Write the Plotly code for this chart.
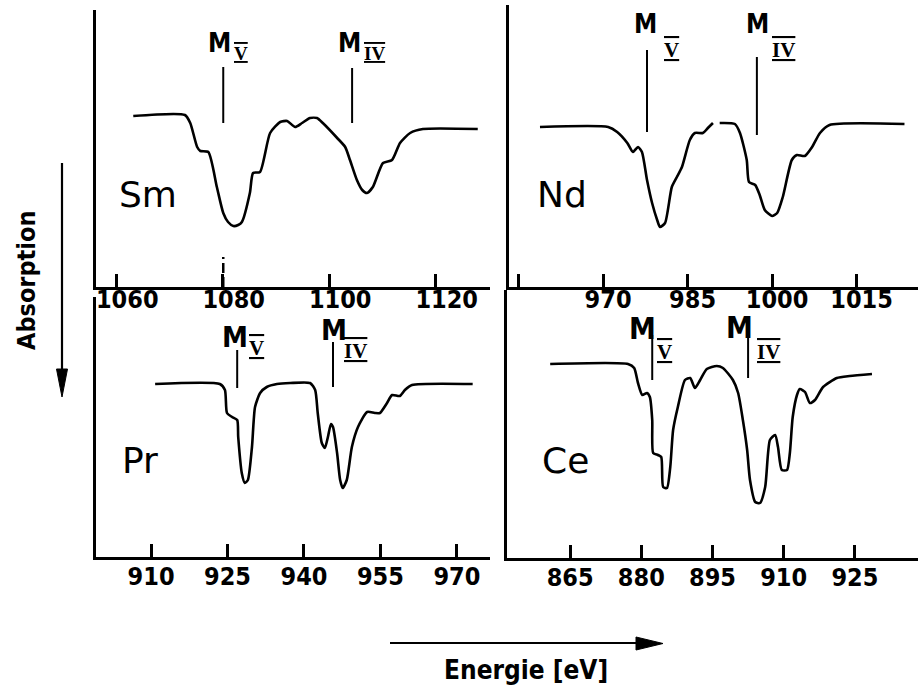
import plotly.graph_objects as go

W, H = 918, 695

# ---------------- data ----------------
# Sm panel
sm_energy = [1063.2, 1072.9, 1073.9, 1075.2, 1075.8, 1077.3, 1078.9, 1080.1, 1081.0, 1082.0,
             1082.9, 1083.6, 1085.1, 1085.7, 1087.0, 1088.9, 1090.8, 1092.1, 1093.6, 1094.9,
             1096.4, 1097.7, 1098.8, 1101.5, 1103.0, 1103.9, 1105.2, 1106.2, 1107.1, 1108.2,
             1110.1, 1111.8, 1113.3, 1115.2, 1117.6, 1127.9]
sm_signal = [171, 172, 164, 140, 136, 135, 100, 74, 65, 61,
             62, 65, 94, 114, 115, 154, 165, 166, 160, 164,
             169, 169, 164, 149, 140, 127, 107, 97, 94, 100,
             124, 127, 144, 154, 158, 158]

# Nd panel (None = gap in the trace)
nd_energy = [958.8, 970.9, 972.5, 974.3, 975.3, 976.2, 976.9, 977.8, 978.7, 979.6,
             980.1, 981.0, 982.2, 983.1, 984.0, 985.4, 986.3, 987.7, 988.6, 989.5,
             None, 990.7, 993.4, 994.3, 995.5, 995.9, 997.0, 997.8, 998.7, 1000.0,
             1000.9, 1001.9, 1003.5, 1004.4, 1005.8, 1007.1, 1008.5, 1010.2, 1023.5]
nd_signal = [160, 160, 155, 144, 135, 140, 135, 107, 84, 67,
             60, 64, 100, 110, 120, 147, 154, 154, 159, 164,
             None, 164, 163, 154, 127, 105, 102, 92, 77, 71,
             74, 90, 127, 132, 131, 140, 154, 162, 163]

# Pr panel
pr_energy = [910.8, 923.5, 924.5, 924.9, 925.9, 926.9, 927.1, 927.8, 928.4, 929.0,
             929.8, 930.4, 931.4, 932.7, 934.7, 937.3, 941.2, 942.2, 942.7, 943.5,
             944.1, 944.7, 945.3, 945.7, 946.5, 947.1, 947.6, 948.4, 949.4, 950.6,
             952.4, 953.9, 954.9, 956.3, 957.3, 958.8, 959.8, 961.2, 973.1]
pr_signal = [173, 173, 167, 144, 140, 137, 120, 84, 74, 77,
             110, 150, 164, 170, 173, 174, 174, 167, 144, 114,
             109, 120, 133, 130, 104, 77, 69, 77, 110, 130,
             145, 144, 144, 154, 162, 161, 167, 172, 173]

# Ce panel
ce_energy = [860.8, 877.2, 878.5, 879.3, 880.2, 881.2, 881.8, 882.3, 882.5, 883.5,
             884.2, 884.6, 885.4, 886.1, 886.7, 887.7, 889.2, 890.3, 891.3, 892.4,
             893.8, 895.9, 897.2, 899.3, 900.4, 901.4, 902.3, 902.9, 904.0, 905.0,
             906.1, 907.1, 908.2, 908.8, 909.6, 910.7, 911.3, 911.9, 912.8, 913.4,
             914.5, 915.5, 916.6, 918.3, 921.2, 923.9, 928.6]
ce_signal = [194, 194, 190, 175, 163, 165, 161, 138, 105, 103,
             101, 71, 70, 91, 128, 151, 178, 180, 170, 178,
             189, 192, 190, 178, 165, 138, 108, 78, 56, 55,
             71, 118, 123, 111, 88, 88, 105, 141, 163, 169,
             166, 155, 158, 171, 180, 182, 184]

# absorption edge markers: energy, lower and upper end of the marker line
sm_edges = [1080.1, 1104.3]; sm_edge_lo = [164, 164]; sm_edge_hi = [220, 219]
nd_edges = [977.8, 997.3];   nd_edge_lo = [155, 152]; nd_edge_hi = [237, 230]
pr_edges = [926.9, 945.7];   pr_edge_lo = [169, 170]; pr_edge_hi = [207, 215]
ce_edges = [882.3, 902.5];   ce_edge_lo = [178, 180]; ce_edge_hi = [223, 228]
edge_names = ["V", "IV"]

sm_ticks = [1060, 1080, 1100, 1120]
nd_ticks = [955, 970, 985, 1000, 1015]
nd_ticktext = ["", "970", "985", "1000", "1015"]
pr_ticks = [910, 925, 940, 955, 970]
ce_ticks = [865, 880, 895, 910, 925]

elements = ["Sm", "Nd", "Pr", "Ce"]

# ---------------- layout helpers ----------------
def px(x):
    return x / W

def py(y):
    return 1 - y / H

panels = [
    dict(el=elements[0], e=sm_energy, s=sm_signal, edges=sm_edges, lo=sm_edge_lo, hi=sm_edge_hi,
         xd=(96, 490), yd=(10, 287), xr=(1056.2, 1130.2), yr=(0, 277),
         ticks=sm_ticks, tt=[str(t) for t in sm_ticks], shift=11, stand=-12, msize=26, nsize=19,
         lab=(117, 194), moff=[(-4, 24.5), (-2.5, 25.5)], noff=[(9, 13.5), (10, 14.5)]),
    dict(el=elements[1], e=nd_energy, s=nd_signal, edges=nd_edges, lo=nd_edge_lo, hi=nd_edge_hi,
         xd=(509, 918), yd=(5, 287), xr=(953.3, 1025.9), yr=(0, 282),
         ticks=nd_ticks, tt=nd_ticktext, shift=5, stand=-12, msize=26, nsize=21,
         lab=(535, 194), moff=[(-2, 26), (0.5, 33)], noff=[(15, 0), (13, 7)]),
    dict(el=elements[2], e=pr_energy, s=pr_signal, edges=pr_edges, lo=pr_edge_lo, hi=pr_edge_hi,
         xd=(96, 490), yd=(297, 557), xr=(899.2, 976.5), yr=(0, 260),
         ticks=pr_ticks, tt=[str(t) for t in pr_ticks], shift=0, stand=-5, msize=29, nsize=21,
         lab=(120, 460), moff=[(-2, 13.5), (0.5, 12.5)], noff=[(10, 2.5), (9, -8.5)]),
    dict(el=elements[3], e=ce_energy, s=ce_signal, edges=ce_edges, lo=ce_edge_lo, hi=ce_edge_hi,
         xd=(507, 918), yd=(290, 558), xr=(851.7, 938.3), yr=(0, 268),
         ticks=ce_ticks, tt=[str(t) for t in ce_ticks], shift=0, stand=-5, msize=30, nsize=21,
         lab=(540, 460), moff=[(-10, 6.5), (-9, 2.5)], noff=[(3, -16.5), (7, -21.5)]),
]

NARROW = "DejaVu Sans Condensed, DejaVu Sans, sans-serif"
SERIF = "Liberation Serif, DejaVu Serif, serif"

fig = go.Figure()
annotations = []
shapes = []
layout = dict(
    width=W, height=H, margin=dict(l=0, r=0, t=0, b=0),
    paper_bgcolor="white", plot_bgcolor="white", showlegend=False,
)

for i, p in enumerate(panels, start=1):
    xa = "x" if i == 1 else f"x{i}"
    ya = "y" if i == 1 else f"y{i}"
    xkey = "xaxis" if i == 1 else f"xaxis{i}"
    ykey = "yaxis" if i == 1 else f"yaxis{i}"
    layout[xkey] = dict(
        domain=[px(p["xd"][0]), px(p["xd"][1])], range=list(p["xr"]), anchor=ya,
        showline=True, linecolor="black", linewidth=3, showgrid=False, zeroline=False,
        ticks="inside", ticklen=13, tickwidth=2.5, tickcolor="black",
        tickvals=p["ticks"], ticktext=p["tt"], ticklabelshift=p["shift"],
        ticklabelstandoff=p["stand"],
        tickfont=dict(family=NARROW, size=25, color="black", weight="bold"),
    )
    layout[ykey] = dict(
        domain=[py(p["yd"][1]), py(p["yd"][0])], range=list(p["yr"]), anchor=xa,
        showline=True, linecolor="black", linewidth=3, showgrid=False, zeroline=False,
        showticklabels=False, ticks="",
    )
    fig.add_trace(go.Scatter(
        x=p["e"], y=p["s"], mode="lines", xaxis=xa, yaxis=ya,
        line=dict(color="black", width=2.6, shape="spline", smoothing=0.6),
        connectgaps=False, hoverinfo="skip",
    ))
    for k, (ex, lo, hi) in enumerate(zip(p["edges"], p["lo"], p["hi"])):
        fig.add_trace(go.Scatter(
            x=[ex, ex], y=[lo, hi], mode="lines", xaxis=xa, yaxis=ya,
            line=dict(color="black", width=2), hoverinfo="skip",
        ))
        mdx, mdy = p["moff"][k]
        ndx, ndy = p["noff"][k]
        annotations.append(dict(
            x=ex, y=hi, xref=xa, yref=ya, text="M", showarrow=False,
            xanchor="center", yanchor="middle", xshift=mdx, yshift=mdy,
            font=dict(family=NARROW, size=p["msize"], color="black", weight="bold"),
        ))
        annotations.append(dict(
            x=ex, y=hi, xref=xa, yref=ya,
            text=f'<span style="text-decoration:underline overline">{edge_names[k]}</span>',
            showarrow=False, xanchor="left", yanchor="middle", xshift=ndx, yshift=ndy,
            font=dict(family=SERIF, size=p["nsize"], color="black", weight="bold"),
        ))
    annotations.append(dict(
        x=px(p["lab"][0]), y=py(p["lab"][1]), xref="paper", yref="paper",
        text=p["el"], showarrow=False, xanchor="left", yanchor="middle",
        font=dict(family="DejaVu Sans, sans-serif", size=36, color="black"),
    ))

# dashed guide below the Sm M_V edge
fig.add_trace(go.Scatter(
    x=[sm_edges[0], sm_edges[0]], y=[0, 30], mode="lines", xaxis="x", yaxis="y",
    line=dict(color="black", width=2.5, dash="10px,4px"), hoverinfo="skip",
))

# axis-direction arrows
shapes.append(dict(type="line", xref="paper", yref="paper",
                   x0=px(62), y0=py(163), x1=px(62), y1=py(375),
                   line=dict(color="black", width=2.2)))
shapes.append(dict(type="path", xref="paper", yref="paper",
                   path=f"M {px(56.5)} {py(369)} L {px(67.5)} {py(369)} L {px(62)} {py(397)} Z",
                   fillcolor="black", line=dict(color="black", width=1)))
shapes.append(dict(type="line", xref="paper", yref="paper",
                   x0=px(390), y0=py(643), x1=px(642), y1=py(643),
                   line=dict(color="black", width=2.2)))
shapes.append(dict(type="path", xref="paper", yref="paper",
                   path=f"M {px(636)} {py(637)} L {px(663)} {py(643.5)} L {px(636)} {py(650)} Z",
                   fillcolor="black", line=dict(color="black", width=1)))

annotations.append(dict(
    x=px(26), y=py(281), xref="paper", yref="paper", text="Absorption", showarrow=False,
    textangle=-90, xanchor="center", yanchor="middle",
    font=dict(family=NARROW, size=25, color="black", weight="bold"),
))
annotations.append(dict(
    x=px(526), y=py(670), xref="paper", yref="paper", text="Energie [eV]", showarrow=False,
    xanchor="center", yanchor="middle",
    font=dict(family=NARROW, size=26, color="black", weight="bold"),
))

layout["annotations"] = annotations
layout["shapes"] = shapes
fig.update_layout(**layout)
fig.write_html("out.html")
